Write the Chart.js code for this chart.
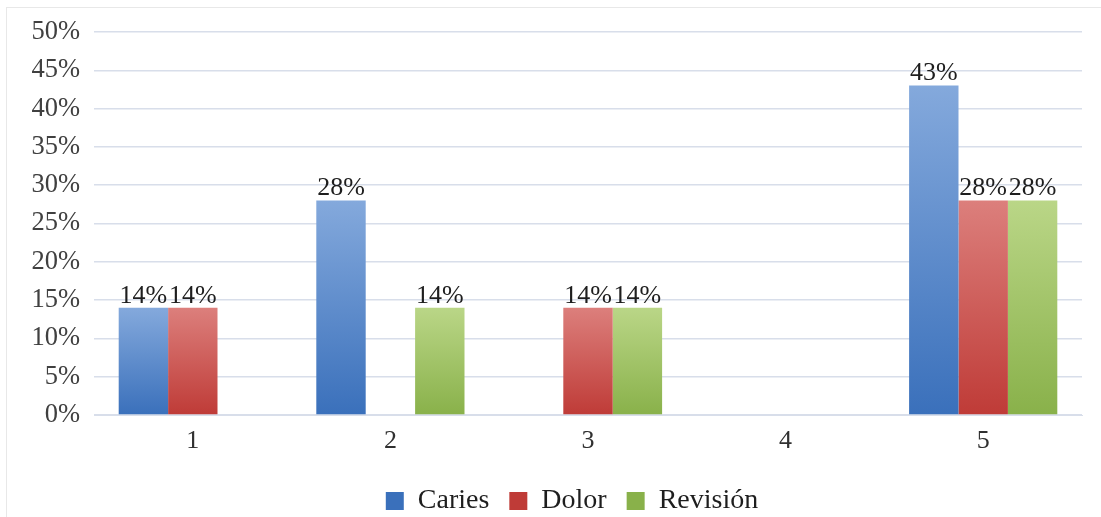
<!DOCTYPE html>
<html>
<head>
<meta charset="utf-8">
<script src="https://cdn.jsdelivr.net/npm/chart.js@4.4.1/dist/chart.umd.min.js"></script>
<style>
  html, body { margin: 0; padding: 0; background: #fff; }
  #wrap { position: relative; width: 1101px; height: 517px; overflow: hidden; }
  #frame { position: absolute; left: 6px; top: 7px; right: 0; bottom: 0; border-left: 1px solid #e8e8e8; border-top: 1px solid #e8e8e8; }
  canvas { position: absolute; left: 0; top: 0; }
</style>
</head>
<body>
<div id="wrap">
  <div id="frame"></div>
  <canvas id="barChart" width="1101" height="517"></canvas>
</div>
<script>
const categories = ['1', '2', '3', '4', '5'];
const caries   = [14, 28, 0, 0, 43];
const dolor    = [14, 0, 14, 0, 28];
const revision = [0, 14, 14, 0, 28];
const yTicks = [0, 5, 10, 15, 20, 25, 30, 35, 40, 45, 50];

const FONT = "'Liberation Serif', 'Times New Roman', serif";

// vertical gradient per bar, light at the top, darker at the base
function barFill(top, bottom) {
  return function (c) {
    const chart = c.chart;
    if (!chart.chartArea || c.raw === undefined) return bottom;
    const y = chart.scales.y;
    const y0 = y.getPixelForValue(0);
    const y1 = y.getPixelForValue(c.raw);
    if (y0 === y1) return bottom;
    const g = chart.ctx.createLinearGradient(0, y1, 0, y0);
    g.addColorStop(0, top);
    g.addColorStop(1, bottom);
    return g;
  };
}

// value labels above each non-zero bar
const valueLabels = {
  id: 'valueLabels',
  afterDatasetsDraw(chart) {
    const ctx = chart.ctx;
    ctx.save();
    ctx.font = '26px ' + FONT;
    ctx.fillStyle = '#1e1e1e';
    ctx.textAlign = 'center';
    ctx.textBaseline = 'bottom';
    chart.data.datasets.forEach((ds, i) => {
      chart.getDatasetMeta(i).data.forEach((bar, j) => {
        const v = ds.data[j];
        if (!v) return;
        ctx.fillText(v + '%', bar.x, bar.y + 1);
      });
    });
    ctx.restore();
  }
};

// legend sits a little right of the canvas centre
const legendShift = {
  id: 'legendShift',
  afterLayout(chart) {
    chart.legend.left += 21;
    chart.legend.right += 21;
  }
};

new Chart(document.getElementById('barChart').getContext('2d'), {
  type: 'bar',
  data: {
    labels: categories,
    datasets: [
      { label: 'Caries', data: caries, backgroundColor: barFill('#84a9dc', '#3a70bb') },
      { label: 'Dolor', data: dolor, backgroundColor: barFill('#dc7f7c', '#bf3b37') },
      { label: 'Revisión', data: revision, backgroundColor: barFill('#bad687', '#89b14a') }
    ]
  },
  options: {
    responsive: false,
    animation: false,
    devicePixelRatio: 1,
    datasets: { bar: { categoryPercentage: 0.75, barPercentage: 1.0 } },
    layout: { padding: { left: 20, right: 19, top: 32, bottom: -8 } },
    scales: {
      x: {
        afterFit(s) { s.height = 52; },
        grid: { display: false, drawTicks: false },
        border: { color: '#d8deea', width: 1 },
        ticks: { color: '#303030', font: { family: FONT, size: 26 }, padding: 11 }
      },
      y: {
        min: 0,
        max: 50,
        afterBuildTicks(s) { s.ticks = yTicks.map(v => ({ value: v })); },
        afterFit(s) { s.width = 74; },
        grid: { color: '#d8deea', lineWidth: 1.5, drawTicks: false },
        border: { display: false },
        ticks: {
          color: '#404040',
          font: { family: FONT, size: 26.5 },
          padding: 14,
          callback: v => v + '%'
        }
      }
    },
    plugins: {
      legend: {
        position: 'bottom',
        labels: {
          color: '#1e1e1e',
          font: { family: FONT, size: 28 },
          boxWidth: 18,
          boxHeight: 18,
          padding: 20
        }
      },
      tooltip: { enabled: false }
    }
  },
  plugins: [valueLabels, legendShift]
});
</script>
</body>
</html>
